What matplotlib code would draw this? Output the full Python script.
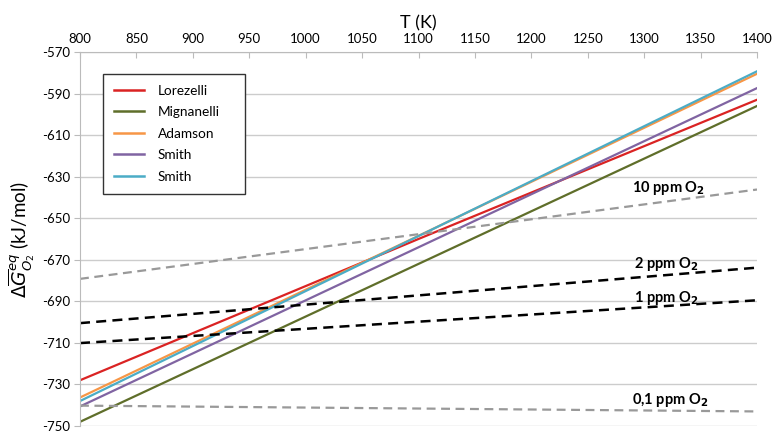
import numpy as np
import matplotlib
matplotlib.use("Agg")
import matplotlib.pyplot as plt
from matplotlib.patches import Rectangle

plt.rcParams['font.family'] = ['Lato', 'DejaVu Sans']
plt.rcParams['axes.unicode_minus'] = False

# temperatures (K) at which the curves were read
T = [800, 1100, 1400]

# equilibrium dG of O2, kJ/mol
lorezelli = [-728, -660, -593]
mignanelli = [-748, -672, -596]
adamson = [-736.3, -658.5, -580.5]
smith_1 = [-740.6, -664, -587.4]
smith_2 = [-738, -658.6, -579.3]

# oxygen partial pressure lines
T_ppm = [800, 1400]
ppm_10 = [-679.2, -636.2]
ppm_2 = [-700.5, -673.8]
ppm_1 = [-710.1, -689.5]
ppm_01 = [-740.2, -743.0]

fig = plt.figure(figsize=(7.73, 4.33), dpi=100)
ax = fig.add_axes([0.1035, 0.0162, 0.8758, 0.8638])

ax.plot(T, lorezelli, color='#DA2323', lw=1.6, label='Lorezelli')
ax.plot(T, mignanelli, color='#5F6E2A', lw=1.6, label='Mignanelli')
ax.plot(T, adamson, color='#F79646', lw=1.6, label='Adamson')
ax.plot(T, smith_1, color='#8064A2', lw=1.6, label='Smith')
ax.plot(T, smith_2, color='#4BACC6', lw=1.6, label='Smith')

ax.plot(T_ppm, ppm_10, color='#999999', lw=1.6, ls=(0, (4, 2.5)))
ax.plot(T_ppm, ppm_2, color='black', lw=1.8, ls=(0, (4, 2.5)))
ax.plot(T_ppm, ppm_1, color='black', lw=1.8, ls=(0, (4, 2.5)))
ax.plot(T_ppm, ppm_01, color='#999999', lw=1.6, ls=(0, (4, 2.5)))

lab = dict(fontsize=10.5, fontweight='bold', ha='right', va='center')
ax.text(1354, -635.5, '10 ppm O$_\\mathbf{2}$', **lab)
ax.text(1348, -672.2, '2 ppm O$_\\mathbf{2}$', **lab)
ax.text(1348, -688.2, '1 ppm O$_\\mathbf{2}$', **lab)
ax.text(1357, -737.7, '0,1 ppm O$_\\mathbf{2}$', **lab)

ax.set_xlim(800, 1400)
ax.set_ylim(-750, -570)
ax.set_xticks(np.arange(800, 1401, 50))
ax.set_yticks(np.arange(-750, -569, 20))
ax.xaxis.tick_top()
ax.xaxis.set_label_position('top')
ax.tick_params(axis='x', direction='in', length=4, color='#BBBBBB', labelsize=9.5, pad=5)
ax.tick_params(axis='y', length=4, color='#BBBBBB', labelsize=9.5, pad=3)
ax.yaxis.grid(True, color='#CCCCCC', lw=1)
ax.set_axisbelow(True)
for s in ['right', 'bottom']:
    ax.spines[s].set_visible(False)
for s in ['top', 'left']:
    ax.spines[s].set_color('#BBBBBB')

ax.set_xlabel('T (K)', fontsize=13, labelpad=3)
ax.set_ylabel('$\\Delta\\overline{G}^{eq}_{O_2}$ (kJ/mol)', fontsize=13.5, labelpad=4)

leg = ax.legend(loc='upper left', bbox_to_anchor=(0.034, 0.942),
                fontsize=9.8, frameon=True, fancybox=False, handlelength=2.2,
                labelspacing=0.7, borderpad=0.8, handletextpad=1.0, borderaxespad=0)
leg.get_frame().set_edgecolor('none')
leg.get_frame().set_facecolor('none')
for h in leg.get_lines():
    h.set_linewidth(1.8)

# legend box in the original is wider than its text, draw the outline by hand
fig.canvas.draw()
bb = leg.get_frame().get_window_extent().transformed(ax.transAxes.inverted())
ax.add_patch(Rectangle((bb.x0, bb.y0), 0.21, bb.height, transform=ax.transAxes,
                       facecolor='white', edgecolor='#333333', lw=1.0, zorder=4.9))

fig.savefig('out.png', dpi=100)
